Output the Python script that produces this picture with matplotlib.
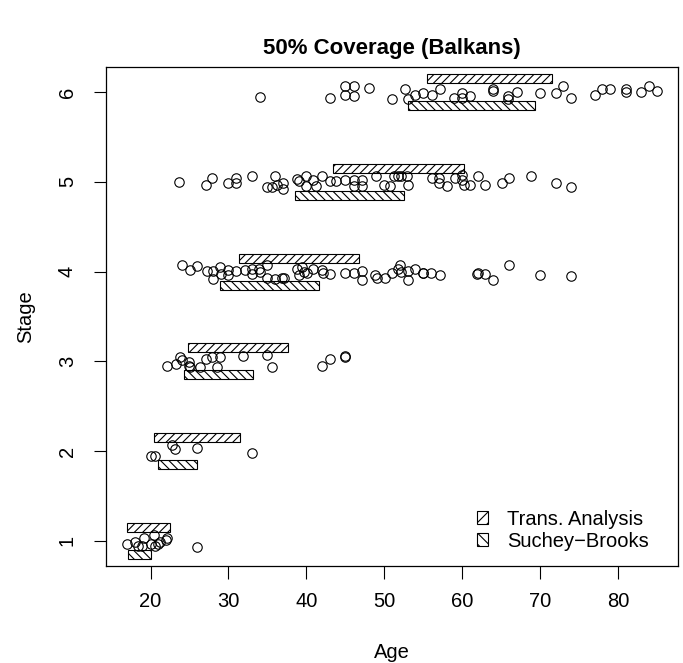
import matplotlib
matplotlib.use("Agg")
import matplotlib.pyplot as plt
from matplotlib.patches import Rectangle

plt.rcParams["font.family"] = ["Liberation Sans", "DejaVu Sans"]
plt.rcParams["hatch.linewidth"] = 0.8

# observed individuals: age and (jittered) stage
ages_1 = [17.0, 18.0, 18.4, 18.9, 19.1, 20.0, 20.4, 20.6, 20.9, 21.2, 22.0, 22.1, 25.9]
stage_1 = [0.97, 0.99, 0.94, 0.94, 1.03, 0.97, 1.06, 0.94, 0.97, 0.99, 1.01, 1.03, 0.93]

ages_2 = [22.7, 23.1, 26.0, 20.0, 20.6, 33.0]
stage_2 = [2.07, 2.02, 2.04, 1.95, 1.95, 1.98]

ages_3 = [22.1, 23.3, 23.8, 24.1, 24.9, 25.0, 25.1, 26.3, 27.1, 27.9, 28.9, 28.5,
          31.9, 35.0, 35.6, 42.0, 43.0, 45.0, 45.0]
stage_3 = [2.95, 2.97, 3.05, 3.02, 2.99, 2.95, 2.94, 2.94, 3.03, 3.05, 3.05, 2.94,
           3.06, 3.07, 2.94, 2.95, 3.03, 3.05, 3.06]

ages_4 = [24.0, 25.1, 25.9, 27.3, 28.0, 28.0, 28.9, 29.0, 30.0, 30.0, 31.0, 32.1,
          33.0, 33.0, 33.9, 34.1, 35.0, 35.0, 36.0, 36.9, 37.1, 38.8, 39.0, 39.4,
          39.7, 40.1, 40.9, 42.0, 42.1, 43.0, 45.0, 46.1, 47.1, 47.1, 48.8, 49.1,
          50.1, 51.0, 51.8, 52.0, 52.1, 53.0, 53.1, 54.0, 55.0, 55.0, 56.0, 57.1,
          61.9, 62.1, 63.0, 64.0, 66.0, 70.0, 74.0]
stage_4 = [4.07, 4.02, 4.06, 4.01, 4.01, 3.92, 4.05, 3.97, 4.02, 3.96, 4.01, 4.02,
           4.03, 3.97, 4.03, 4.00, 4.07, 3.93, 3.92, 3.93, 3.93, 4.03, 3.96, 4.05,
           4.00, 3.98, 4.03, 4.02, 3.98, 3.97, 3.99, 3.98, 4.01, 3.91, 3.96, 3.93,
           3.93, 3.98, 4.03, 4.07, 4.00, 3.91, 4.01, 4.03, 3.99, 3.98, 3.98, 3.96,
           3.97, 3.98, 3.97, 3.91, 4.07, 3.96, 3.95]

ages_5 = [23.7, 27.1, 27.9, 30.0, 31.0, 31.0, 33.0, 35.0, 35.6, 36.0, 36.2, 37.0,
          37.0, 38.8, 39.0, 40.0, 40.0, 40.9, 41.2, 42.0, 43.0, 43.8, 45.0, 46.1,
          46.1, 47.1, 47.1, 49.0, 50.0, 50.8, 51.8, 51.2, 52.1, 52.9, 53.1, 56.1,
          57.0, 57.0, 58.0, 59.1, 60.0, 60.0, 60.2, 61.0, 62.1, 63.0, 65.1, 66.0,
          68.9, 72.1, 74.0]
stage_5 = [5.00, 4.97, 5.04, 4.99, 5.04, 4.99, 5.06, 4.94, 4.94, 5.06, 4.97, 4.92,
           4.99, 5.03, 5.01, 5.06, 4.95, 5.02, 4.95, 5.06, 5.01, 5.01, 5.02, 5.02,
           4.95, 5.02, 4.95, 5.06, 4.97, 4.95, 5.06, 5.06, 5.06, 5.06, 4.97, 5.04,
           5.04, 4.99, 4.95, 5.04, 5.08, 5.02, 4.97, 4.97, 5.06, 4.97, 4.99, 5.04,
           5.06, 4.99, 4.94]

ages_6 = [34.0, 43.0, 45.0, 46.1, 45.0, 46.1, 48.0, 51.0, 52.7, 53.1, 54.0, 55.0,
          56.1, 57.1, 59.0, 60.0, 60.0, 61.0, 64.0, 64.0, 65.9, 65.9, 67.0, 70.0,
          72.1, 73.0, 74.0, 77.1, 78.0, 79.0, 81.0, 81.0, 83.0, 84.0, 85.0]
stage_6 = [5.95, 5.94, 6.07, 6.07, 5.97, 5.96, 6.05, 5.92, 6.03, 5.92, 5.97, 5.99,
           5.97, 6.03, 5.93, 5.99, 5.94, 5.96, 6.04, 6.01, 5.96, 5.92, 6.00, 5.99,
           5.99, 6.07, 5.94, 5.97, 6.03, 6.03, 6.04, 6.00, 6.00, 6.07, 6.01]

# 50% age intervals per stage
stages = [1, 2, 3, 4, 5, 6]
ta_lo = [17.0, 20.5, 24.8, 31.3, 43.4, 55.5]
ta_hi = [22.5, 31.5, 37.6, 46.8, 60.2, 71.5]
sb_lo = [17.1, 20.9, 24.3, 28.9, 38.6, 53.0]
sb_hi = [20.0, 25.9, 33.1, 41.6, 52.6, 69.4]

FS = 14.5

fig = plt.figure(figsize=(6.83, 6.63), dpi=100)
ax = fig.add_axes([106 / 683, 97 / 663, 572 / 683, 499 / 663])

ages = ages_1 + ages_2 + ages_3 + ages_4 + ages_5 + ages_6
stg = stage_1 + stage_2 + stage_3 + stage_4 + stage_5 + stage_6
ax.plot(ages, stg, linestyle="none", marker="o", markersize=6.8,
        markerfacecolor="none", markeredgecolor="black", markeredgewidth=0.8)

for s, a, b in zip(stages, ta_lo, ta_hi):
    ax.add_patch(Rectangle((a, s + 0.1), b - a, 0.1, facecolor="none",
                           edgecolor="black", linewidth=0.8, hatch="////"))
for s, a, b in zip(stages, sb_lo, sb_hi):
    ax.add_patch(Rectangle((a, s - 0.2), b - a, 0.1, facecolor="none",
                           edgecolor="black", linewidth=0.8, hatch="\\\\\\\\"))

ax.set_xlim(14.28, 87.72)
ax.set_ylim(0.72, 6.28)
ax.set_xticks([20, 30, 40, 50, 60, 70, 80])
ax.set_yticks(stages)
ax.tick_params(length=9, width=0.8, labelsize=FS)
ax.tick_params(axis="x", pad=10)
ax.tick_params(axis="y", pad=12, labelrotation=90)
for lbl in ax.get_yticklabels():
    lbl.set_va("center")
for sp in ax.spines.values():
    sp.set_linewidth(0.9)

ax.set_xlabel("Age", fontsize=FS, labelpad=22.5)
ax.set_ylabel("Stage", fontsize=FS, labelpad=16)
ax.set_title("50% Coverage (Balkans)", fontsize=16, fontweight="bold", pad=9.5)

handles = [
    Rectangle((0, 0), 1, 1, facecolor="none", edgecolor="black", linewidth=0.8, hatch="///"),
    Rectangle((0, 0), 1, 1, facecolor="none", edgecolor="black", linewidth=0.8, hatch="\\\\\\"),
]
ax.legend(handles, ["Trans. Analysis", "Suchey\u2212Brooks"], loc="upper left",
          bbox_to_anchor=(0.648, 0.113), frameon=False, fontsize=FS,
          borderpad=0, borderaxespad=0,
          handlelength=0.55, handleheight=0.55, handletextpad=0.95, labelspacing=0.15)

fig.savefig("out.png", dpi=100)
